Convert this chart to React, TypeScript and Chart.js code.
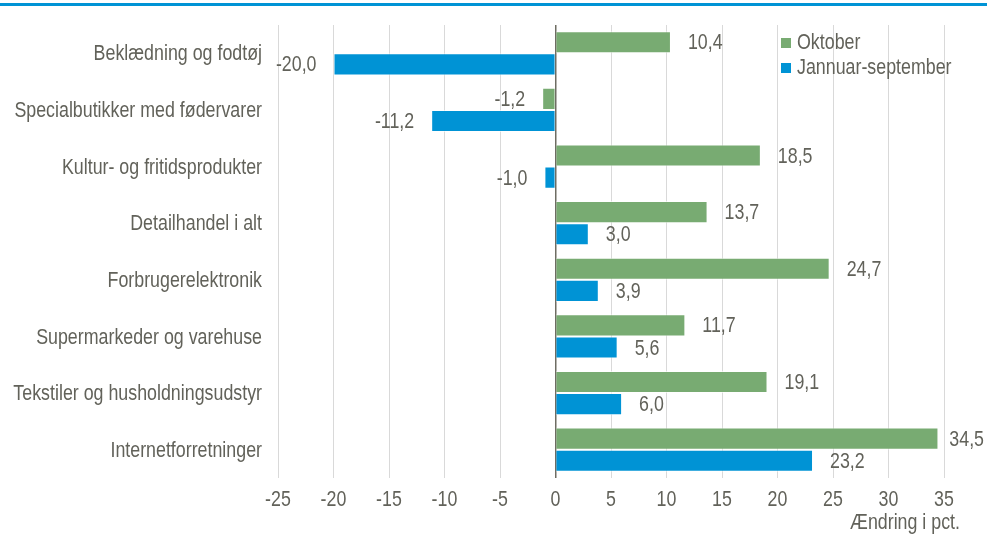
import React, { useEffect, useRef } from "react";
import { Chart, registerables } from "chart.js";

Chart.register(...registerables);

const categories = [
  "Beklædning og fodtøj",
  "Specialbutikker med fødervarer",
  "Kultur- og fritidsprodukter",
  "Detailhandel i alt",
  "Forbrugerelektronik",
  "Supermarkeder og varehuse",
  "Tekstiler og husholdningsudstyr",
  "Internetforretninger",
];
const oktober = [10.4, -1.2, 18.5, 13.7, 24.7, 11.7, 19.1, 34.5];
const jannuarSeptember = [-20.0, -11.2, -1.0, 3.0, 3.9, 5.6, 6.0, 23.2];
const seriesNames = ["Oktober", "Jannuar-september"];
const axisTitle = "Ændring i pct.";
const xMin = -25;
const xMax = 35;
const xStep = 5;

const FONT = "'Liberation Sans', Arial, sans-serif";
const TEXT = "#62625a";
const GREEN = "#78ab72";
const BLUE = "#0093d5";
const NARROW = 0.81;

const fmt = (v: number) => v.toFixed(1).replace(".", ",");

function narrowText(ctx: any, text: string, x: number, y: number, align: "left" | "right" | "center", maxRight?: number) {
  const w = ctx.measureText(text).width * NARROW;
  let left = x;
  if (align === "right") left = x - w;
  else if (align === "center") left = x - w / 2;
  if (maxRight !== undefined && left + w > maxRight) left = maxRight - w;
  ctx.textAlign = "left";
  ctx.fillText(text, left, y, w);
}

const overlayPlugin = {
  id: "overlay",
  afterDatasetsDraw(chart: any) {
    const ctx = chart.ctx;
    const area = chart.chartArea;
    const xs = chart.scales.x;
    const ys = chart.scales.y;
    ctx.save();
    ctx.font = `22px ${FONT}`;
    ctx.fillStyle = TEXT;
    ctx.textBaseline = "middle";

    // y category labels
    chart.data.labels.forEach((lab: string, i: number) => {
      narrowText(ctx, lab, area.left - 16, ys.getPixelForTick(i) + 1, "right");
    });
    // x tick labels
    xs.ticks.forEach((t: any) => {
      narrowText(ctx, String(t.value), xs.getPixelForValue(t.value), area.bottom + 22, "center");
    });
    // axis title
    narrowText(ctx, axisTitle, area.right + 16, area.bottom + 45, "right");

    // data labels
    chart.data.datasets.forEach((ds: any, di: number) => {
      const meta = chart.getDatasetMeta(di);
      meta.data.forEach((bar: any, i: number) => {
        const v = ds.data[i];
        if (v >= 0) narrowText(ctx, fmt(v), bar.x + 17, bar.y + 1, "left", chart.width - 3);
        else narrowText(ctx, fmt(v), bar.x - 17, bar.y + 1, "right");
      });
    });

    // legend
    const lx = 781;
    const items = [
      { label: seriesNames[0], color: GREEN, y: 43 },
      { label: seriesNames[1], color: BLUE, y: 68 },
    ];
    items.forEach((it) => {
      ctx.fillStyle = it.color;
      ctx.fillRect(lx, it.y - 5, 10, 10);
      ctx.fillStyle = TEXT;
      narrowText(ctx, it.label, lx + 16, it.y, "left");
    });

    // top rule
    ctx.fillStyle = BLUE;
    ctx.fillRect(0, 3, chart.width, 3);
    ctx.restore();
  },
};

export default function App() {
  const ref = useRef<HTMLCanvasElement>(null);
  useEffect(() => {
    document.body.style.margin = "0";
    const chart = new Chart(ref.current!, {
      type: "bar",
      data: {
        labels: categories,
        datasets: [
          {
            label: seriesNames[0],
            data: oktober,
            backgroundColor: GREEN,
            borderColor: "rgba(255,255,255,0.6)",
            borderWidth: 1,
            categoryPercentage: 0.78,
            barPercentage: 1,
          },
          {
            label: seriesNames[1],
            data: jannuarSeptember,
            backgroundColor: BLUE,
            borderColor: "rgba(255,255,255,0.6)",
            borderWidth: 1,
            categoryPercentage: 0.78,
            barPercentage: 1,
          },
        ],
      },
      options: {
        indexAxis: "y",
        responsive: false,
        animation: false,
        layout: { padding: { top: 25, right: 43, left: 0, bottom: 0 } },
        plugins: { legend: { display: false }, tooltip: { enabled: false } },
        scales: {
          x: {
            min: xMin,
            max: xMax,
            ticks: { stepSize: xStep, display: false },
            grid: {
              drawTicks: false,
              color: (c: any) => (c.tick && c.tick.value === 0 ? "#6e6d63" : "#d9d9d9"),
              lineWidth: (c: any) => (c.tick && c.tick.value === 0 ? 1.5 : 1),
            },
            border: { display: false },
            afterFit: (s: any) => {
              s.height = 58;
            },
          },
          y: {
            ticks: { display: false },
            grid: { display: false, drawTicks: false },
            border: { display: false },
            afterFit: (s: any) => {
              s.width = 278;
            },
          },
        },
      },
      plugins: [overlayPlugin],
    });
    return () => chart.destroy();
  }, []);
  return <canvas ref={ref} width={987} height={536} style={{ display: "block" }} />;
}
